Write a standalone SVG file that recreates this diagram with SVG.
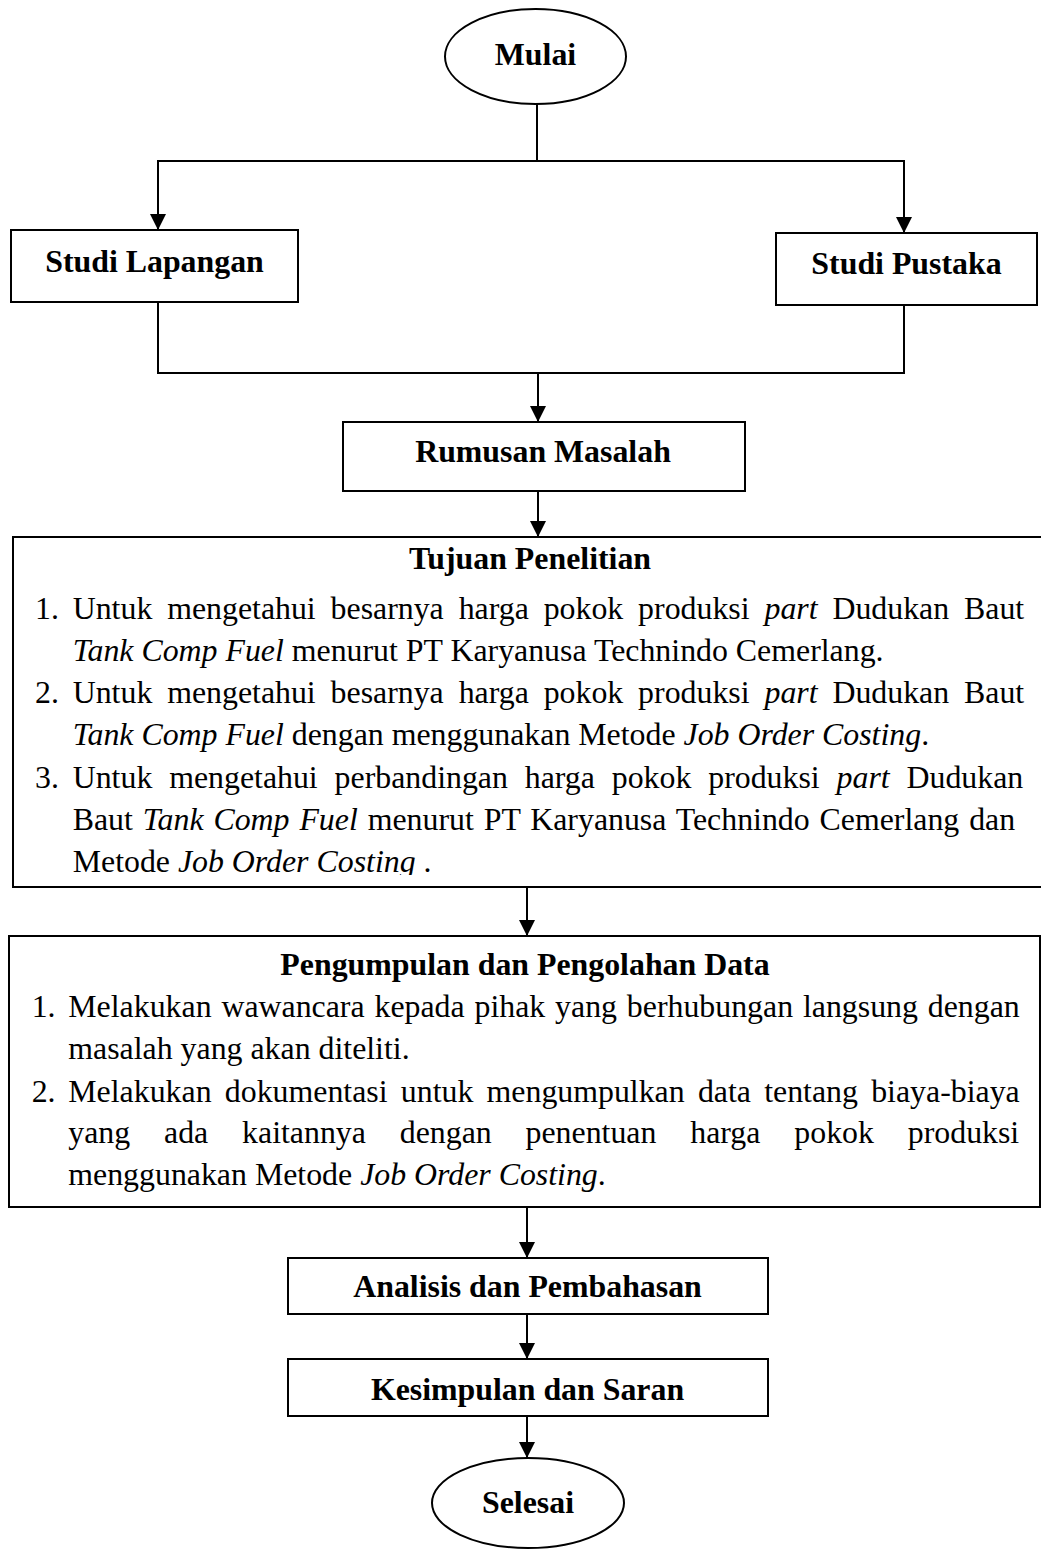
<svg xmlns="http://www.w3.org/2000/svg" width="1041" height="1550" viewBox="0 0 1041 1550">
<style>
.box{fill:#fff;stroke:#000;stroke-width:2}
.c{fill:none;stroke:#000;stroke-width:2}
.h{font-family:"Liberation Serif","Times New Roman",serif;font-size:31.85px;font-weight:bold;text-anchor:middle;fill:#000}
.t{font-family:"Liberation Serif","Times New Roman",serif;font-size:31.85px;fill:#000}
.i{font-style:italic}
</style>
<defs>
<marker id="ah" markerUnits="userSpaceOnUse" markerWidth="16" markerHeight="16" refX="16" refY="8" orient="auto">
<path d="M0,0 L16,8 L0,16 Z" fill="#000"/>
</marker>
<clipPath id="clipT"><rect x="0" y="537" width="1041" height="338"/></clipPath>
</defs>
<rect x="0" y="0" width="1041" height="1550" fill="#fff"/>

<g id="connectors">
<line class="c" x1="537" y1="104" x2="537" y2="161"/>
<line class="c" x1="157" y1="161" x2="905" y2="161"/>
<line class="c" x1="158" y1="161" x2="158" y2="230" marker-end="url(#ah)"/>
<line class="c" x1="904" y1="161" x2="904" y2="233" marker-end="url(#ah)"/>
<line class="c" x1="158" y1="302" x2="158" y2="373"/>
<line class="c" x1="904" y1="305" x2="904" y2="373"/>
<line class="c" x1="157" y1="373" x2="905" y2="373"/>
<line class="c" x1="538" y1="373" x2="538" y2="422" marker-end="url(#ah)"/>
<line class="c" x1="538" y1="491" x2="538" y2="537" marker-end="url(#ah)"/>
<line class="c" x1="527" y1="887" x2="527" y2="936" marker-end="url(#ah)"/>
<line class="c" x1="527" y1="1207" x2="527" y2="1258" marker-end="url(#ah)"/>
<line class="c" x1="527" y1="1314" x2="527" y2="1359" marker-end="url(#ah)"/>
<line class="c" x1="527" y1="1416" x2="527" y2="1458" marker-end="url(#ah)"/>
</g>

<g id="mulai">
<ellipse class="box" cx="535.5" cy="56.5" rx="90.5" ry="47.5"/>
<text class="h" x="535.5" y="65">Mulai</text>
</g>

<g id="studi-lapangan">
<rect class="box" x="11" y="230" width="287" height="72"/>
<text class="h" x="154.5" y="272">Studi Lapangan</text>
</g>

<g id="studi-pustaka">
<rect class="box" x="776" y="233" width="261" height="72"/>
<text class="h" x="906.5" y="274">Studi Pustaka</text>
</g>

<g id="rumusan-masalah">
<rect class="box" x="343" y="422" width="402" height="69"/>
<text class="h" x="543" y="462">Rumusan Masalah</text>
</g>

<g id="tujuan-penelitian">
<rect class="box" x="13" y="537" width="1040" height="350"/>
<text class="h" x="530" y="569">Tujuan Penelitian</text>
<g clip-path="url(#clipT)">
<text class="t" x="35" y="619">1.</text>
<text class="t" x="72.7" y="619" word-spacing="6.91">Untuk mengetahui besarnya harga pokok produksi <tspan class="i">part</tspan> Dudukan Baut</text>
<text class="t" x="72.7" y="661"><tspan class="i">Tank Comp Fuel</tspan> menurut PT Karyanusa Technindo Cemerlang.</text>
<text class="t" x="35" y="703">2.</text>
<text class="t" x="72.7" y="703" word-spacing="6.91">Untuk mengetahui besarnya harga pokok produksi <tspan class="i">part</tspan> Dudukan Baut</text>
<text class="t" x="72.7" y="745"><tspan class="i">Tank Comp Fuel</tspan> dengan menggunakan Metode <tspan class="i">Job Order Costing</tspan>.</text>
<text class="t" x="35" y="788">3.</text>
<text class="t" x="72.7" y="788" word-spacing="8.9">Untuk mengetahui perbandingan harga pokok produksi <tspan class="i">part</tspan> Dudukan</text>
<text class="t" x="72.7" y="830" word-spacing="1.95">Baut <tspan class="i">Tank Comp Fuel</tspan> menurut PT Karyanusa Technindo Cemerlang dan</text>
<text class="t" x="72.7" y="872">Metode <tspan class="i">Job Order Costing</tspan> .</text>
</g>
</g>

<g id="pengumpulan-data">
<rect class="box" x="9" y="936" width="1031" height="271"/>
<text class="h" x="525" y="975">Pengumpulan dan Pengolahan Data</text>
<text class="t" x="31.7" y="1017">1.</text>
<text class="t" x="68.3" y="1017" word-spacing="1.9">Melakukan wawancara kepada pihak yang berhubungan langsung dengan</text>
<text class="t" x="68.3" y="1059">masalah yang akan diteliti.</text>
<text class="t" x="31.7" y="1102">2.</text>
<text class="t" x="68.3" y="1102" word-spacing="5.29">Melakukan dokumentasi untuk mengumpulkan data tentang biaya-biaya</text>
<text class="t" x="68.3" y="1143" word-spacing="25.9">yang ada kaitannya dengan penentuan harga pokok produksi</text>
<text class="t" x="68.3" y="1185">menggunakan Metode <tspan class="i">Job Order Costing</tspan>.</text>
</g>

<g id="analisis">
<rect class="box" x="288" y="1258" width="480" height="56"/>
<text class="h" x="527.5" y="1297">Analisis dan Pembahasan</text>
</g>

<g id="kesimpulan">
<rect class="box" x="288" y="1359" width="480" height="57"/>
<text class="h" x="527.5" y="1400">Kesimpulan dan Saran</text>
</g>

<g id="selesai">
<ellipse class="box" cx="528" cy="1503" rx="96" ry="45"/>
<text class="h" x="528" y="1513">Selesai</text>
</g>
</svg>
